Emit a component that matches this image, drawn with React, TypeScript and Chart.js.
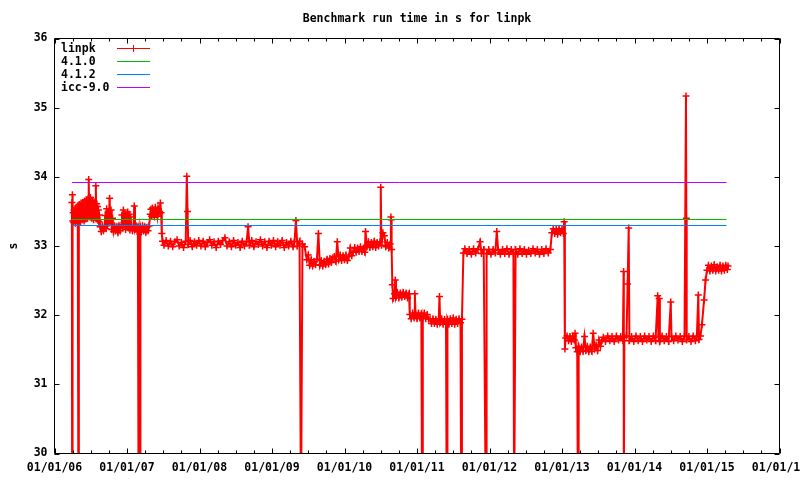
import { useEffect, useRef } from "react";
import { Chart, registerables } from "chart.js";

Chart.register(...registerables);

type Pt = [number, number];

// x = years since 01/01/06, y = run time in s
const chartTitle = "Benchmark run time in s for linpk";
const yAxisTitle = "s";
const seriesNames = ["linpk", "4.1.0", "4.1.2", "icc-9.0"];
const seriesColors = ["#ff0000", "#00c000", "#0080ff", "#c000ff"];
const firstYearLabel = 6;
const xMinorStep = 0.25;

const linpk2006: Pt[] = [
  [0.240, 33.63], [0.243, 29.0], [0.247, 33.74], [0.252, 33.36], [0.258, 33.48], [0.264, 33.34], [0.270, 33.52],
  [0.276, 33.38], [0.282, 33.46], [0.288, 33.33], [0.294, 33.55], [0.300, 33.40], [0.306, 33.50], [0.312, 33.36],
  [0.318, 33.58], [0.324, 33.42], [0.330, 29.0], [0.336, 33.40], [0.342, 33.60], [0.348, 33.37], [0.354, 33.55],
  [0.360, 33.35], [0.366, 33.62], [0.372, 33.44], [0.378, 33.57], [0.384, 33.38], [0.390, 33.63], [0.396, 33.41],
  [0.402, 33.58], [0.408, 33.36], [0.414, 33.65], [0.420, 33.46], [0.426, 33.60], [0.432, 33.39], [0.438, 33.67],
  [0.444, 33.48], [0.450, 33.62], [0.456, 33.40], [0.462, 33.68], [0.468, 33.50], [0.472, 33.96], [0.478, 33.55],
  [0.484, 33.64], [0.490, 33.42], [0.496, 33.70], [0.502, 33.45], [0.508, 33.62], [0.514, 33.40], [0.520, 33.66],
  [0.526, 33.47], [0.532, 33.60], [0.538, 33.38], [0.544, 33.64], [0.550, 33.45], [0.556, 33.58], [0.562, 33.42],
  [0.570, 33.87], [0.576, 33.48], [0.582, 33.61], [0.588, 33.40], [0.594, 33.57], [0.600, 33.37], [0.606, 33.52],
  [0.612, 33.35], [0.618, 33.45], [0.630, 33.28], [0.645, 33.21], [0.660, 33.29], [0.675, 33.22], [0.690, 33.27],
  [0.700, 33.44], [0.710, 33.25], [0.720, 33.54], [0.730, 33.30], [0.740, 33.50], [0.750, 33.33], [0.760, 33.69],
  [0.770, 33.36], [0.780, 33.52], [0.790, 33.24], [0.800, 33.40], [0.815, 33.21], [0.830, 33.29], [0.845, 33.22],
  [0.860, 33.28], [0.875, 33.20], [0.890, 33.29], [0.905, 33.22], [0.920, 33.30], [0.930, 33.45], [0.940, 33.26],
  [0.950, 33.52], [0.960, 33.31], [0.970, 33.47], [0.980, 33.24], [0.990, 33.45],
];

const linpk2007: Pt[] = [
  [1.000, 33.29], [1.010, 33.49], [1.020, 33.26], [1.030, 33.46], [1.040, 33.23], [1.050, 33.42], [1.060, 33.27],
  [1.075, 33.22], [1.090, 33.29], [1.100, 33.58], [1.110, 33.24], [1.125, 33.29], [1.140, 33.21], [1.150, 33.28],
  [1.160, 29.0], [1.165, 33.25], [1.175, 33.21], [1.180, 29.0], [1.185, 33.28], [1.200, 33.21], [1.215, 33.29],
  [1.230, 33.22], [1.245, 33.28], [1.260, 33.20], [1.275, 33.27], [1.290, 33.22], [1.305, 33.29], [1.320, 33.46],
  [1.330, 33.53], [1.340, 33.43], [1.350, 33.55], [1.360, 33.45], [1.370, 33.52], [1.380, 33.42], [1.390, 33.56],
  [1.400, 33.46], [1.410, 33.51], [1.420, 33.43], [1.430, 33.54], [1.440, 33.47], [1.450, 33.50], [1.460, 33.62],
  [1.470, 33.48], [1.480, 33.18], [1.490, 33.07], [1.51, 33.01], [1.54, 33.08], [1.57, 33.00], [1.60, 33.07],
  [1.63, 32.99], [1.66, 33.06], [1.69, 33.09], [1.72, 33.00], [1.75, 33.05], [1.78, 32.98], [1.81, 33.07],
  [1.825, 34.01], [1.835, 33.50], [1.845, 33.02], [1.87, 33.08], [1.90, 32.99], [1.93, 33.06], [1.96, 33.01],
  [1.99, 33.08],
];

const linpk2008: Pt[] = [
  [2.02, 33.00], [2.05, 33.07], [2.08, 32.99], [2.11, 33.05], [2.14, 33.09], [2.17, 33.01], [2.20, 33.06],
  [2.23, 32.98], [2.26, 33.07], [2.29, 33.02], [2.32, 33.08], [2.35, 33.12], [2.38, 33.00], [2.41, 33.06],
  [2.44, 32.99], [2.47, 33.08], [2.50, 33.01], [2.53, 33.05], [2.56, 32.98], [2.59, 33.07], [2.62, 33.00],
  [2.65, 33.06], [2.67, 33.28], [2.69, 33.01], [2.72, 33.08], [2.75, 32.99], [2.78, 33.06], [2.81, 33.02],
  [2.84, 33.09], [2.87, 33.00], [2.90, 33.06], [2.93, 32.98], [2.96, 33.07], [2.99, 33.01],
];

const linpk2009: Pt[] = [
  [3.02, 33.08], [3.05, 32.99], [3.08, 33.06], [3.11, 33.01], [3.14, 33.08], [3.17, 32.98], [3.20, 33.05],
  [3.23, 33.00], [3.26, 33.07], [3.29, 32.99], [3.31, 33.06], [3.33, 33.37], [3.35, 33.00], [3.38, 33.07],
  [3.40, 29.0], [3.42, 33.03], [3.45, 32.99], [3.48, 32.80], [3.50, 32.87], [3.52, 32.72], [3.54, 32.80],
  [3.56, 32.71], [3.58, 32.78], [3.60, 32.73], [3.62, 32.81], [3.64, 33.18], [3.66, 32.72], [3.68, 32.79],
  [3.70, 32.71], [3.72, 32.78], [3.74, 32.73], [3.76, 32.81], [3.78, 32.74], [3.80, 32.82], [3.82, 32.76],
  [3.84, 32.83], [3.86, 32.85], [3.88, 32.78], [3.90, 33.06], [3.92, 32.80], [3.94, 32.87], [3.96, 32.79],
  [3.98, 32.86],
];

const linpk2010: Pt[] = [
  [4.00, 32.80], [4.02, 32.87], [4.04, 32.79], [4.06, 32.85], [4.08, 32.97], [4.10, 32.86], [4.12, 32.92],
  [4.14, 32.98], [4.16, 32.91], [4.18, 32.97], [4.20, 32.92], [4.22, 32.99], [4.24, 32.92], [4.26, 32.97],
  [4.28, 32.91], [4.29, 33.21], [4.31, 32.99], [4.33, 33.06], [4.35, 32.98], [4.37, 33.05], [4.39, 32.99],
  [4.41, 33.07], [4.43, 32.98], [4.45, 33.05], [4.47, 33.00], [4.49, 33.06], [4.50, 33.85], [4.51, 33.01],
  [4.53, 33.19], [4.55, 33.15], [4.57, 32.99], [4.59, 33.05], [4.61, 32.97], [4.63, 33.03], [4.64, 33.42],
  [4.645, 33.38], [4.65, 32.95], [4.66, 32.44], [4.67, 32.24], [4.69, 32.31], [4.70, 32.51], [4.71, 32.26],
  [4.73, 32.33], [4.75, 32.25], [4.77, 32.32], [4.79, 32.26], [4.81, 32.33], [4.83, 32.27], [4.85, 32.32],
  [4.87, 32.25], [4.89, 32.31], [4.90, 32.01], [4.92, 31.95], [4.94, 32.03], [4.96, 31.96], [4.97, 32.31],
  [4.98, 32.02],
];

const linpk2011: Pt[] = [
  [5.00, 31.95], [5.02, 32.03], [5.04, 31.96], [5.06, 32.02], [5.07, 29.0], [5.08, 31.96], [5.10, 32.03],
  [5.12, 31.95], [5.14, 32.01], [5.16, 31.94], [5.18, 31.95], [5.20, 31.88], [5.22, 31.95], [5.24, 31.88],
  [5.26, 31.94], [5.28, 31.87], [5.30, 31.95], [5.31, 32.27], [5.32, 31.89], [5.34, 31.95], [5.36, 31.87],
  [5.38, 31.94], [5.40, 31.88], [5.41, 29.0], [5.415, 29.0], [5.42, 31.94], [5.44, 31.87], [5.46, 31.95],
  [5.48, 31.88], [5.50, 31.96], [5.52, 31.87], [5.54, 31.94], [5.56, 31.88], [5.58, 31.95], [5.60, 31.89],
  [5.61, 29.0], [5.62, 31.94], [5.64, 32.90], [5.66, 32.96], [5.69, 32.89], [5.72, 32.95], [5.75, 32.88],
  [5.78, 32.96], [5.81, 32.90], [5.84, 32.95], [5.87, 33.06], [5.89, 32.89], [5.92, 32.95], [5.95, 29.0],
  [5.955, 29.0], [5.96, 32.89], [5.99, 32.95],
];

const linpk2012: Pt[] = [
  [6.02, 32.88], [6.05, 32.95], [6.08, 32.90], [6.10, 33.21], [6.12, 32.94], [6.15, 32.88], [6.18, 32.95],
  [6.21, 32.89], [6.24, 32.96], [6.27, 32.88], [6.30, 32.95], [6.33, 32.90], [6.34, 29.0], [6.345, 29.0],
  [6.36, 32.95], [6.39, 32.88], [6.42, 32.96], [6.45, 32.89], [6.48, 32.95], [6.51, 32.88], [6.54, 32.94],
  [6.57, 32.89], [6.60, 32.96], [6.63, 32.90], [6.66, 32.95], [6.69, 32.88], [6.72, 32.95], [6.75, 32.89],
  [6.78, 32.96], [6.81, 32.90], [6.84, 32.95], [6.86, 33.19], [6.88, 33.25], [6.90, 33.18], [6.92, 33.24],
  [6.94, 33.17], [6.96, 33.25], [6.98, 33.19],
];

const linpk2013: Pt[] = [
  [7.00, 33.24], [7.02, 33.18], [7.03, 33.35], [7.04, 31.51], [7.05, 31.67], [7.07, 31.70], [7.09, 31.63],
  [7.11, 31.69], [7.13, 31.62], [7.15, 31.70], [7.17, 31.64], [7.18, 31.74], [7.19, 31.53], [7.21, 31.47],
  [7.22, 29.0], [7.225, 29.0], [7.23, 31.55], [7.25, 31.47], [7.27, 31.54], [7.29, 31.48], [7.31, 31.69],
  [7.33, 31.49], [7.35, 31.55], [7.37, 31.47], [7.39, 31.54], [7.41, 31.48], [7.43, 31.74], [7.45, 31.51],
  [7.47, 31.57], [7.49, 31.49], [7.51, 31.64], [7.53, 31.55], [7.55, 31.63], [7.57, 31.68], [7.60, 31.62],
  [7.63, 31.70], [7.66, 31.63], [7.69, 31.69], [7.72, 31.62], [7.75, 31.70], [7.78, 31.64], [7.81, 31.69],
  [7.84, 31.63], [7.85, 32.63], [7.853, 29.0], [7.86, 31.68], [7.89, 31.70], [7.905, 32.45], [7.92, 33.26],
  [7.93, 31.63], [7.96, 31.69], [7.99, 31.62],
];

const linpk2014: Pt[] = [
  [8.02, 31.70], [8.05, 31.63], [8.08, 31.69], [8.11, 31.62], [8.14, 31.70], [8.17, 31.64], [8.20, 31.69],
  [8.23, 31.62], [8.26, 31.70], [8.29, 31.63], [8.32, 32.28], [8.33, 31.68], [8.34, 32.24], [8.35, 31.62],
  [8.38, 31.70], [8.41, 31.63], [8.44, 31.69], [8.47, 31.62], [8.50, 32.19], [8.51, 31.69], [8.54, 31.63],
  [8.57, 31.70], [8.60, 31.64], [8.63, 31.69], [8.66, 31.62], [8.69, 31.70], [8.71, 35.17], [8.715, 33.40],
  [8.72, 31.64], [8.75, 31.69], [8.78, 31.62], [8.81, 31.70], [8.84, 31.63], [8.86, 31.69], [8.88, 32.29],
  [8.89, 31.65], [8.91, 31.70], [8.93, 31.86], [8.96, 32.22], [8.98, 32.51],
];

const linpk2015: Pt[] = [
  [9.00, 32.65], [9.02, 32.72], [9.04, 32.64], [9.06, 32.71], [9.08, 32.65], [9.10, 32.73], [9.12, 32.64],
  [9.14, 32.70], [9.16, 32.65], [9.18, 32.72], [9.20, 32.64], [9.22, 32.71], [9.24, 32.65], [9.26, 32.72],
  [9.28, 32.66], [9.29, 32.71],
];

// constant reference results of other compilers
const refRange: [number, number] = [0.24, 9.27];
const ref410 = 33.383;
const ref412 = 33.296;
const refIcc90 = 33.918;

const linpkAll: Pt[] = [
  ...linpk2006, ...linpk2007, ...linpk2008, ...linpk2009, ...linpk2010,
  ...linpk2011, ...linpk2012, ...linpk2013, ...linpk2014, ...linpk2015,
];

const FONT_FAMILY = "'DejaVu Sans Mono', 'Liberation Mono', monospace";
const FONT = { family: FONT_FAMILY, size: 11.5, weight: "bold" as const, lineHeight: 1.2 };

const frameAndKey = {
  id: "frameAndKey",
  afterDraw(chart: any) {
    const { ctx, chartArea: a, scales } = chart;
    const xs = scales.x;
    const ys = scales.y;
    ctx.save();
    ctx.strokeStyle = "#000";
    ctx.lineWidth = 1;
    ctx.beginPath();
    ctx.rect(a.left, a.top, a.right - a.left, a.bottom - a.top);
    const xMin = xs.min;
    const xMax = xs.max;
    const steps = Math.round((xMax - xMin) / xMinorStep);
    for (let q = 0; q <= steps; q++) {
      const v = xMin + q * xMinorStep;
      const px = Math.round(xs.getPixelForValue(v)) + 0.5;
      const len = Math.abs(v - Math.round(v)) < 1e-6 ? 5 : 3;
      ctx.moveTo(px, a.bottom);
      ctx.lineTo(px, a.bottom - len);
      ctx.moveTo(px, a.top);
      ctx.lineTo(px, a.top + len);
    }
    for (const t of ys.ticks) {
      const py = Math.round(ys.getPixelForValue(t.value)) + 0.5;
      ctx.moveTo(a.left, py);
      ctx.lineTo(a.left + 5, py);
      ctx.moveTo(a.right, py);
      ctx.lineTo(a.right - 5, py);
    }
    ctx.stroke();

    // key, text before sample (gnuplot style)
    ctx.font = `bold ${FONT.size}px ${FONT_FAMILY}`;
    ctx.textBaseline = "middle";
    ctx.textAlign = "left";
    chart.data.datasets.forEach((ds: any, i: number) => {
      const rowY = 48.5 + i * 13;
      ctx.fillStyle = "#000";
      ctx.fillText(ds.label, 61, rowY + 0.5);
      ctx.strokeStyle = ds.borderColor;
      ctx.lineWidth = 1;
      ctx.beginPath();
      ctx.moveTo(117, rowY);
      ctx.lineTo(150, rowY);
      if (ds.pointStyle === "cross" && ds.pointRadius > 0) {
        const r = ds.pointRadius;
        ctx.moveTo(133.5, rowY - r);
        ctx.lineTo(133.5, rowY + r);
      }
      ctx.stroke();
    });
    ctx.restore();
  },
};

function refLine(v: number) {
  return refRange.map((x) => ({ x, y: v }));
}

export default function App() {
  const canvasRef = useRef<HTMLCanvasElement | null>(null);

  useEffect(() => {
    const canvas = canvasRef.current;
    if (!canvas) return;
    const chart = new Chart(canvas, {
      type: "line",
      data: {
        datasets: [
          {
            label: seriesNames[0],
            data: linpkAll.map(([x, y]) => ({ x, y })),
            borderColor: seriesColors[0],
            backgroundColor: seriesColors[0],
            borderWidth: 2,
            pointStyle: "cross",
            pointRadius: 3.5,
            pointBorderWidth: 1.5,
            pointBorderColor: seriesColors[0],
            tension: 0,
            order: 10,
          },
          {
            label: seriesNames[1],
            data: refLine(ref410),
            borderColor: seriesColors[1],
            borderWidth: 1,
            pointRadius: 0,
            order: 1,
          },
          {
            label: seriesNames[2],
            data: refLine(ref412),
            borderColor: seriesColors[2],
            borderWidth: 1,
            pointRadius: 0,
            order: 1,
          },
          {
            label: seriesNames[3],
            data: refLine(refIcc90),
            borderColor: seriesColors[3],
            borderWidth: 1,
            pointRadius: 0,
            order: 1,
          },
        ],
      },
      options: {
        animation: false,
        responsive: false,
        devicePixelRatio: 1,
        layout: { padding: { left: 0, right: 20.5, top: 0, bottom: 0 } },
        plugins: {
          legend: { display: false },
          tooltip: { enabled: false },
          title: {
            display: true,
            fullSize: false,
            text: chartTitle,
            color: "#000",
            font: FONT,
            padding: { top: 12.5, bottom: 12.2 },
          },
        },
        scales: {
          x: {
            type: "linear",
            min: 0,
            max: 10,
            grid: { display: false, drawTicks: false },
            border: { display: false },
            ticks: {
              stepSize: 1,
              autoSkip: false,
              maxRotation: 0,
              minRotation: 0,
              padding: 8,
              color: "#000",
              font: FONT,
              callback: (v: any) => `01/01/${String(firstYearLabel + Number(v)).padStart(2, "0")}`,
            },
            afterFit: (s: any) => {
              s.height = 26.5;
              s.paddingLeft = 0;
              s.paddingRight = 0;
            },
          },
          y: {
            type: "linear",
            min: 30,
            max: 36,
            grid: { display: false, drawTicks: false },
            border: { display: false },
            ticks: {
              stepSize: 1,
              padding: 7,
              color: "#000",
              font: FONT,
              callback: (v: any) => String(v),
            },
            title: {
              display: true,
              text: yAxisTitle,
              color: "#000",
              font: FONT,
              padding: { top: 7, bottom: 0 },
            },
            afterFit: (s: any) => {
              s.width = 54.5;
              s.paddingTop = 0;
              s.paddingBottom = 0;
            },
          },
        },
      },
      plugins: [frameAndKey],
    });
    return () => chart.destroy();
  }, []);

  return (
    <div style={{ position: "fixed", left: 0, top: 0, width: 800, height: 480, background: "#fff" }}>
      <canvas ref={canvasRef} width={800} height={480} />
    </div>
  );
}
